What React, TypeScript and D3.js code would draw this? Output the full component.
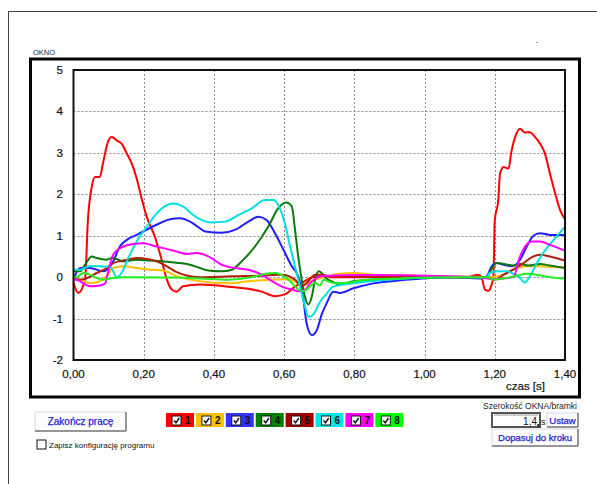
import React from 'react';
import * as d3 from 'd3';

// czas [s] / wartość
const kanal1 = [
  [0, -0.13], [0.013, -0.38], [0.033, -0.06], [0.041, 1.37], [0.052, 2.18], [0.061, 2.42], [0.075, 2.42],
  [0.084, 2.75], [0.098, 3.26], [0.109, 3.38], [0.123, 3.3], [0.137, 3.22], [0.152, 2.98], [0.166, 2.74],
  [0.18, 2.38], [0.194, 1.9], [0.209, 1.45], [0.232, 0.97], [0.251, 0.42], [0.266, -0.06], [0.28, -0.3],
  [0.294, -0.35], [0.312, -0.22], [0.36, -0.18], [0.44, -0.23], [0.536, -0.35], [0.574, -0.46], [0.603, -0.41],
  [0.631, -0.23], [0.65, -0.14], [0.679, -0.01], [0.697, 0.02], [0.716, 0.0], [0.9, 0.0], [1.12, 0.0],
  [1.153, 0.06], [1.163, -0.02], [1.172, -0.3], [1.182, -0.33], [1.191, -0.18], [1.196, 0.0], [1.2, 1.38],
  [1.21, 1.86], [1.215, 2.5], [1.225, 2.66], [1.239, 2.62], [1.248, 3.06], [1.258, 3.38], [1.272, 3.58],
  [1.286, 3.49], [1.3, 3.5], [1.315, 3.38], [1.329, 3.22], [1.343, 2.98], [1.357, 2.5], [1.372, 2.02],
  [1.386, 1.62], [1.4, 1.4],
];
const kanal2 = [
  [0, -0.03], [0.019, -0.05], [0.047, -0.15], [0.075, -0.1], [0.094, 0.02], [0.113, 0.22], [0.142, 0.26],
  [0.18, 0.22], [0.218, 0.18], [0.256, 0.16], [0.294, 0.02], [0.332, -0.06], [0.36, -0.1], [0.441, -0.15],
  [0.498, -0.1], [0.555, -0.06], [0.612, -0.05], [0.64, -0.15], [0.66, -0.18], [0.688, -0.06], [0.716, 0.0],
  [0.759, 0.08], [0.797, 0.1], [0.854, 0.06], [1.0, 0.03], [1.177, 0.0], [1.215, 0.03], [1.234, 0.1],
  [1.262, 0.22], [1.291, 0.26], [1.329, 0.26], [1.367, 0.24], [1.4, 0.24],
];
const kanal3 = [
  [0, -0.06], [0.019, 0.22], [0.047, 0.22], [0.085, 0.14], [0.113, 0.38], [0.132, 0.74], [0.152, 0.9],
  [0.18, 1.02], [0.209, 1.15], [0.246, 1.3], [0.275, 1.4], [0.303, 1.42], [0.332, 1.34], [0.36, 1.18],
  [0.375, 1.1], [0.422, 1.07], [0.46, 1.14], [0.498, 1.34], [0.527, 1.46], [0.55, 1.38], [0.574, 1.06],
  [0.598, 0.66], [0.622, 0.26], [0.64, 0.02], [0.655, -0.55], [0.664, -1.12], [0.679, -1.4], [0.693, -1.28],
  [0.707, -0.9], [0.721, -0.63], [0.74, -0.35], [0.759, -0.38], [0.797, -0.27], [0.854, -0.15], [0.94, -0.07],
  [1.073, 0.0], [1.158, -0.03], [1.177, 0.02], [1.191, 0.26], [1.206, 0.34], [1.225, 0.3], [1.248, 0.26],
  [1.272, 0.42], [1.291, 0.74], [1.31, 1.0], [1.329, 1.06], [1.357, 1.02], [1.4, 1.02],
];
const kanal4 = [
  [0, 0.14], [0.019, 0.14], [0.033, 0.3], [0.052, 0.5], [0.066, 0.46], [0.094, 0.42], [0.109, 0.46],
  [0.123, 0.44], [0.142, 0.38], [0.18, 0.42], [0.218, 0.4], [0.256, 0.38], [0.294, 0.35], [0.332, 0.3],
  [0.36, 0.22], [0.384, 0.16], [0.422, 0.14], [0.451, 0.18], [0.479, 0.38], [0.517, 0.74], [0.555, 1.22],
  [0.583, 1.66], [0.607, 1.8], [0.622, 1.7], [0.631, 1.14], [0.64, 0.5], [0.65, -0.06], [0.659, -0.46],
  [0.669, -0.66], [0.679, -0.46], [0.688, -0.06], [0.698, 0.14], [0.707, 0.1], [0.716, 0.0], [0.74, -0.12],
  [0.759, -0.18], [0.797, -0.1], [0.892, -0.05], [1.073, 0.0], [1.177, 0.0], [1.191, 0.2], [1.206, 0.34],
  [1.225, 0.32], [1.253, 0.28], [1.272, 0.32], [1.295, 0.28], [1.329, 0.32], [1.357, 0.28], [1.4, 0.22],
];
const kanal5 = [
  [0, -0.03], [0.019, -0.06], [0.038, -0.03], [0.066, 0.1], [0.095, 0.22], [0.113, 0.34], [0.142, 0.4],
  [0.18, 0.46], [0.209, 0.44], [0.237, 0.38], [0.266, 0.26], [0.294, 0.12], [0.322, 0.04], [0.36, 0.0],
  [0.45, 0.02], [0.55, 0.04], [0.593, 0.06], [0.631, -0.06], [0.65, -0.22], [0.669, -0.1], [0.688, 0.06],
  [0.707, 0.06], [0.73, 0.02], [1.073, 0.0], [1.177, 0.0], [1.2, -0.06], [1.225, 0.06], [1.253, 0.18],
  [1.282, 0.34], [1.31, 0.5], [1.329, 0.54], [1.357, 0.5], [1.4, 0.4],
];
const kanal6 = [
  [0, 0.18], [0.019, 0.18], [0.047, 0.27], [0.075, 0.26], [0.104, 0.25], [0.113, 0.14], [0.123, 0.0],
  [0.137, 0.1], [0.156, 0.46], [0.18, 0.86], [0.209, 1.22], [0.237, 1.54], [0.266, 1.74], [0.284, 1.78],
  [0.313, 1.7], [0.341, 1.5], [0.36, 1.4], [0.394, 1.32], [0.432, 1.34], [0.47, 1.5], [0.508, 1.66],
  [0.545, 1.86], [0.569, 1.86], [0.583, 1.74], [0.602, 1.3], [0.617, 0.74], [0.631, 0.26], [0.645, -0.22],
  [0.659, -0.7], [0.669, -0.96], [0.683, -0.9], [0.702, -0.6], [0.721, -0.4], [0.74, -0.23], [0.797, -0.15],
  [0.892, -0.06], [1.073, 0.0], [1.177, -0.01], [1.186, 0.1], [1.206, 0.14], [1.234, 0.14], [1.248, 0.1],
  [1.267, 0.02], [1.286, -0.13], [1.3, 0.02], [1.32, 0.34], [1.348, 0.7], [1.376, 0.98], [1.4, 1.22],
];
const kanal7 = [
  [0, -0.06], [0.009, -0.06], [0.028, -0.15], [0.047, -0.22], [0.075, -0.2], [0.09, -0.15], [0.099, 0.14],
  [0.113, 0.54], [0.142, 0.74], [0.17, 0.8], [0.199, 0.82], [0.227, 0.76], [0.256, 0.7], [0.294, 0.62],
  [0.322, 0.56], [0.35, 0.58], [0.384, 0.5], [0.422, 0.3], [0.46, 0.22], [0.498, 0.18], [0.536, 0.06],
  [0.574, -0.14], [0.603, -0.26], [0.622, -0.3], [0.64, -0.34], [0.66, -0.3], [0.674, -0.15], [0.693, -0.01],
  [0.712, 0.03], [0.816, 0.05], [1.073, 0.02], [1.158, 0.0], [1.196, -0.05], [1.253, 0.0], [1.272, 0.5],
  [1.29, 0.78], [1.305, 0.86], [1.329, 0.86], [1.357, 0.78], [1.4, 0.64],
];
const kanal8 = [
  [0, 0.0], [0.009, 0.0], [0.028, 0.1], [0.047, 0.06], [0.066, -0.02], [0.085, -0.06], [0.113, -0.02],
  [0.142, 0.0], [0.275, -0.01], [0.36, -0.03], [0.441, -0.06], [0.508, 0.0], [0.546, 0.08], [0.574, 0.1],
  [0.603, 0.0], [0.622, -0.14], [0.64, -0.3], [0.655, -0.34], [0.669, -0.26], [0.688, -0.14], [0.702, -0.2],
  [0.712, -0.06], [0.74, -0.14], [0.77, -0.14], [0.835, -0.06], [0.93, -0.03], [1.073, 0.0], [1.177, 0.0],
  [1.196, -0.06], [1.225, -0.03], [1.262, 0.03], [1.291, 0.08], [1.32, 0.06], [1.357, 0.0], [1.4, -0.03],
];

const kanaly = [kanal1, kanal2, kanal3, kanal4, kanal5, kanal6, kanal7, kanal8];
const nazwyKanalow = ['1', '2', '3', '4', '5', '6', '7', '8'];
const koloryLinii = ['#ff0000', '#ffc000', '#1f1fff', '#0a7a0a', '#b02008', '#00e0e0', '#ff00ff', '#22ee22'];
const koloryLegendy = ['#ff0000', '#ffc000', '#3333ff', '#008000', '#a00000', '#00e8e8', '#ff00ff', '#00ff00'];

const xTicks = [0, 0.2, 0.4, 0.6, 0.8, 1.0, 1.2, 1.4];
const yTicks = [-2, -1, 0, 1, 2, 3, 4, 5];

const FONT = '"Liberation Sans", Arial, sans-serif';

const Przycisk = ({ x, y, w, h, text, size = 10 }) => (
  <g>
    <rect x={x} y={y} width={w} height={h} fill="#fdfdfd" stroke="#d8d8d8" />
    <line x1={x} y1={y + h} x2={x + w} y2={y + h} stroke="#7a7a7a" strokeWidth={1.5} />
    <line x1={x + w} y1={y} x2={x + w} y2={y + h} stroke="#7a7a7a" strokeWidth={1.5} />
    <text x={x + w / 2} y={y + h / 2} textAnchor="middle" dominantBaseline="central"
      fontSize={size} fill="#2222cc" stroke="#2222cc" strokeWidth={0.25} fontFamily={FONT}>{text}</text>
  </g>
);

const Checkbox = ({ x, y, s = 9, checked = true }) => (
  <g>
    <rect x={x} y={y} width={s} height={s} fill="#fff" stroke="#111" strokeWidth={1} />
    {checked && (
      <path d={`M${x + 2},${y + s / 2} L${x + s / 2 - 0.5},${y + s - 2.2} L${x + s - 1.8},${y + 2}`}
        fill="none" stroke="#111" strokeWidth={1.5} />
    )}
  </g>
);

export default function App() {
  const margin = { left: 73.5, top: 70, right: 565, bottom: 360 };
  const x = d3.scaleLinear().domain([0, 1.4]).range([margin.left, margin.right]);
  const y = d3.scaleLinear().domain([-2, 5]).range([margin.bottom, margin.top]);
  const line = d3.line().x(d => x(d[0])).y(d => y(d[1])).curve(d3.curveMonotoneX);
  const fmt = (v) => v.toFixed(2).replace('.', ',');

  return (
    <svg width={597} height={484} style={{ position: 'absolute', left: 0, top: 0, background: '#fff' }}>
      {/* okno programu */}
      <line x1={8} y1={11.5} x2={597} y2={11.5} stroke="#444" />
      <line x1={8.5} y1={11} x2={8.5} y2={484} stroke="#444" />
      <rect x={536} y={42} width={2} height={1} fill="#a0a070" />

      {/* ramka OKNO */}
      <text x={33} y={52} fontSize={7.5} fontFamily={FONT} fill="#222" dominantBaseline="central">OKNO</text>
      <rect x={30.5} y={59} width={549} height={338} fill="none" stroke="#000" strokeWidth={3} />

      {/* siatka */}
      <g stroke="#8a8a8a" strokeWidth={1} strokeDasharray="2,2">
        {xTicks.slice(1, -1).map(t => (
          <line key={'gx' + t} x1={Math.round(x(t)) + 0.5} x2={Math.round(x(t)) + 0.5} y1={margin.top} y2={margin.bottom} />
        ))}
        {yTicks.slice(1, -1).map(t => (
          <line key={'gy' + t} x1={margin.left} x2={margin.right} y1={Math.round(y(t)) + 0.5} y2={Math.round(y(t)) + 0.5} />
        ))}
      </g>

      {/* serie */}
      <g fill="none" strokeWidth={2} strokeLinejoin="round">
        {kanaly.map((k, i) => (
          <path key={nazwyKanalow[i]} d={line(k)} stroke={koloryLinii[i]} />
        ))}
      </g>

      {/* obszar wykresu */}
      <rect x={margin.left} y={margin.top} width={margin.right - margin.left} height={margin.bottom - margin.top}
        fill="none" stroke="#111" strokeWidth={2} />

      {/* osie */}
      <g fontFamily={FONT} fontSize={11.5} fill="#111" stroke="#111" strokeWidth={0.2}>
        {yTicks.map(t => (
          <text key={'ty' + t} x={63} y={y(t)} textAnchor="end" dominantBaseline="central">{t}</text>
        ))}
        {xTicks.map(t => (
          <text key={'tx' + t} x={x(t)} y={374} textAnchor="middle" dominantBaseline="central">{fmt(t)}</text>
        ))}
        <text x={545} y={386} textAnchor="end" dominantBaseline="central">czas [s]</text>
      </g>

      {/* przyciski i opcje */}
      <Przycisk x={35} y={412} w={91} h={19} text="Zakończ pracę" />
      <Checkbox x={37} y={440} s={9} checked={false} />
      <text x={49} y={445} fontSize={8} fontFamily={FONT} fill="#111" dominantBaseline="central">Zapisz konfigurację programu</text>

      {/* legenda */}
      {nazwyKanalow.map((n, i) => {
        const lx = 166 + i * 29.9;
        return (
          <g key={'lg' + n}>
            <rect x={lx} y={413} width={28} height={14} fill={koloryLegendy[i]} />
            <Checkbox x={lx + 6} y={416} s={9} />
            <text x={lx + 19} y={420.5} fontSize={10} fontWeight="bold" fontFamily={FONT} fill="#111"
              dominantBaseline="central">{n}</text>
          </g>
        );
      })}

      {/* szerokość okna */}
      <text x={577} y={406} textAnchor="end" fontSize={8.5} fontFamily={FONT} fill="#222" dominantBaseline="central">Szerokość OKNA/bramki</text>
      <rect x={492} y={413} width={48} height={14} fill="#fff" stroke="#555" strokeWidth={2} />
      <line x1={494} y1={415} x2={538} y2={415} stroke="#999" />
      <text x={537} y={421} textAnchor="end" fontSize={10} fontFamily={FONT} fill="#111" dominantBaseline="central">1,4</text>
      <rect x={537} y={424} width={4} height={4} fill="#444" />
      <text x={541} y={422} fontSize={9} fontFamily={FONT} fill="#111" dominantBaseline="central">s</text>
      <Przycisk x={547} y={413} w={31} h={14} text="Ustaw" size={9.5} />
      <Przycisk x={492} y={429} w={86} h={17} text="Dopasuj do kroku" size={9.5} />
    </svg>
  );
}
